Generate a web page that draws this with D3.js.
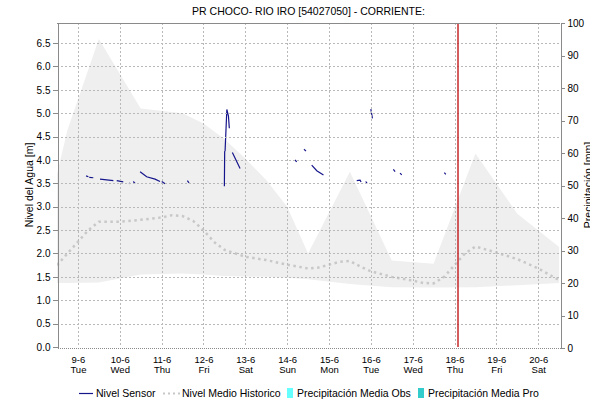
<!DOCTYPE html>
<html lang="es">
<head>
<meta charset="utf-8">
<style>
body { margin: 0; background: #fff; }
svg text { font-family: "Liberation Sans", Arial, sans-serif; fill: #000; }
.grid line { stroke: #b9b9b9; stroke-dasharray: 2,2; shape-rendering: crispEdges; }
.axis path, .axis line { stroke: #8a8a8a; shape-rendering: crispEdges; }
</style>
</head>
<body>
<svg width="590" height="402"></svg>
<script src="https://d3js.org/d3.v7.min.js"></script>
<script>
// --- data ---
var title = "PR CHOCO- RIO IRO [54027050] - CORRIENTE:";

var dayTicks = ["2015-06-09", "2015-06-10", "2015-06-11", "2015-06-12", "2015-06-13", "2015-06-14",
                "2015-06-15", "2015-06-16", "2015-06-17", "2015-06-18", "2015-06-19", "2015-06-20"];

// historic band (min / max)
var bandTimes = ["2015-06-08 12:00", "2015-06-08 18:00", "2015-06-09 12:00", "2015-06-10 12:00",
                 "2015-06-11 12:00", "2015-06-12 00:00", "2015-06-12 12:00", "2015-06-13 00:00",
                 "2015-06-13 12:00", "2015-06-14 00:00", "2015-06-14 12:00", "2015-06-15 12:00",
                 "2015-06-16 12:00", "2015-06-17 12:00", "2015-06-18 12:00", "2015-06-19 12:00",
                 "2015-06-20 12:00"];
var bandMax = [3.7, 4.64, 6.59, 5.1, 5.0, 4.78, 4.45, 4.03, 3.57, 3.0, 2.0, 3.75, 1.85, 1.78, 4.14, 2.85, 2.14];
var bandMin = [1.37, 1.37, 1.38, 1.55, 1.57, 1.55, 1.52, 1.51, 1.5, 1.48, 1.45, 1.35, 1.28, 1.27, 1.28, 1.32, 1.37];

// Nivel Medio Historico
var histTimes = ["2015-06-08 12:00", "2015-06-08 18:00", "2015-06-09 00:00", "2015-06-09 06:00",
                 "2015-06-09 12:00", "2015-06-10 00:00", "2015-06-10 12:00", "2015-06-11 00:00",
                 "2015-06-11 06:00", "2015-06-11 12:00", "2015-06-11 18:00", "2015-06-12 00:00",
                 "2015-06-12 06:00", "2015-06-12 12:00", "2015-06-13 00:00", "2015-06-13 12:00",
                 "2015-06-14 00:00", "2015-06-14 12:00", "2015-06-14 18:00", "2015-06-15 00:00",
                 "2015-06-15 06:00", "2015-06-15 12:00", "2015-06-15 18:00", "2015-06-16 00:00",
                 "2015-06-16 12:00", "2015-06-17 00:00", "2015-06-17 06:00", "2015-06-17 12:00",
                 "2015-06-17 18:00", "2015-06-18 00:00", "2015-06-18 06:00", "2015-06-18 12:00",
                 "2015-06-19 00:00", "2015-06-19 12:00", "2015-06-20 00:00", "2015-06-20 12:00"];
var histValues = [1.75, 2.0, 2.25, 2.5, 2.68, 2.68, 2.72, 2.77, 2.82, 2.8, 2.7, 2.5,
                  2.25, 2.08, 1.93, 1.86, 1.76, 1.68, 1.7, 1.76, 1.82, 1.84, 1.72, 1.62,
                  1.5, 1.42, 1.37, 1.36, 1.5, 1.75, 2.0, 2.15, 2.02, 1.88, 1.68, 1.43];

// Nivel Sensor (null = gap in the record)
var sensorTimes = ["2015-06-09 04:40", "2015-06-09 06:00", "2015-06-09 06:10",
                   "2015-06-09 06:30", "2015-06-09 08:50", "2015-06-09 10:00",
                   "2015-06-09 12:40", "2015-06-09 20:20", "2015-06-09 21:00",
                   "2015-06-09 22:15", "2015-06-10 02:00", "2015-06-10 03:00",
                   "2015-06-10 05:20", "2015-06-10 05:55", "2015-06-10 06:30",
                   "2015-06-10 07:45", "2015-06-10 08:45", "2015-06-10 10:00",
                   "2015-06-10 11:40", "2015-06-10 15:25", "2015-06-10 20:15", "2015-06-10 23:05", "2015-06-10 23:30",
                   "2015-06-11 00:05", "2015-06-11 02:00", "2015-06-11 03:00",
                   "2015-06-11 14:45", "2015-06-11 15:45", "2015-06-11 17:00",
                   "2015-06-12 12:00", "2015-06-12 12:10", "2015-06-12 12:25", "2015-06-12 13:25", "2015-06-12 14:20", "2015-06-12 14:50", "2015-06-12 15:30",
                   "2015-06-12 16:35", "2015-06-12 21:00", "2015-06-12 22:00",
                   "2015-06-14 04:30", "2015-06-14 05:30", "2015-06-14 06:30",
                   "2015-06-14 09:40", "2015-06-14 10:50", "2015-06-14 12:00",
                   "2015-06-14 14:05", "2015-06-14 17:00", "2015-06-14 20:50", "2015-06-14 22:00",
                   "2015-06-15 15:55", "2015-06-15 17:50", "2015-06-15 18:25", "2015-06-15 19:30",
                   "2015-06-15 21:05", "2015-06-15 21:50", "2015-06-15 23:00",
                   "2015-06-16 00:00", "2015-06-16 00:55", "2015-06-16 02:00",
                   "2015-06-16 12:55", "2015-06-16 13:55", "2015-06-16 15:00",
                   "2015-06-16 16:45", "2015-06-16 17:45", "2015-06-16 19:00",
                   "2015-06-17 18:10", "2015-06-17 19:00"];
var sensorValues = [3.66, 3.64, null,
                    3.63, 3.62, null,
                    3.59, 3.56, null,
                    3.56, 3.53, null,
                    3.51, 3.49, null,
                    3.54, 3.5, null,
                    3.75, 3.64, 3.59, 3.54, null,
                    3.54, 3.49, null,
                    3.56, 3.51, null,
                    3.44, 4.18, 4.2, 5.08, 4.94, 4.68, null,
                    4.16, 3.82, null,
                    4.0, 3.96, null,
                    4.23, 4.19, null,
                    3.89, 3.77, 3.68, null,
                    3.56, 3.57, 3.53, null,
                    3.54, 3.5, null,
                    5.09, 4.89, null,
                    3.8, 3.75, null,
                    3.72, 3.68, null,
                    3.73, 3.69];

var nowTime = "2015-06-18 02:00";

var legendItems = ["Nivel Sensor", "Nivel Medio Historico", "Precipitación Media Obs", "Precipitación Media Pro"];

// --- chart ---
var svg = d3.select("svg");
var parse = d3.timeParse("%Y-%m-%d %H:%M");
var parseDay = d3.timeParse("%Y-%m-%d");
var pL = 57, pR = 560, pT = 23, pB = 347;

var x = d3.scaleTime()
    .domain([parse("2015-06-08 12:00"), parse("2015-06-20 12:30")])
    .range([pL, pR]);
var y = d3.scaleLinear().domain([0, 6.93]).range([pB, pT]);
var yR = d3.scaleLinear().domain([0, 100]).range([pB + 1, pT]);

svg.append("defs").append("clipPath").attr("id", "plot")
    .append("rect").attr("x", pL).attr("y", pT).attr("width", pR - pL).attr("height", pB - pT);

var band = bandTimes.map(function (t, i) { return {t: parse(t), lo: bandMin[i], hi: bandMax[i]}; });
var hist = histTimes.map(function (t, i) { return {t: parse(t), v: histValues[i]}; });
var sensor = sensorTimes.map(function (t, i) { return {t: parse(t), v: sensorValues[i]}; });
var days = dayTicks.map(parseDay);

var plot = svg.append("g").attr("clip-path", "url(#plot)");

plot.append("path")
    .datum(band)
    .attr("fill", "#efefef")
    .attr("d", d3.area()
        .x(function (d) { return x(d.t); })
        .y0(function (d) { return y(d.lo); })
        .y1(function (d) { return y(d.hi); }));

// grid
var grid = svg.append("g").attr("class", "grid");
grid.selectAll(".gx").data(days).enter().append("line")
    .attr("x1", function (d) { return Math.round(x(d)) + 0.5; })
    .attr("x2", function (d) { return Math.round(x(d)) + 0.5; })
    .attr("y1", pT).attr("y2", pB);
grid.selectAll(".gy").data(d3.range(0.5, 6.6, 0.5)).enter().append("line")
    .attr("x1", pL).attr("x2", pR)
    .attr("y1", function (d) { return Math.round(y(d)) + 0.5; })
    .attr("y2", function (d) { return Math.round(y(d)) + 0.5; });

plot.append("path")
    .datum(hist)
    .attr("fill", "none")
    .attr("stroke", "#c8c8c8")
    .attr("stroke-width", 2.5)
    .attr("stroke-dasharray", "2.5,3.5")
    .attr("d", d3.line().x(function (d) { return x(d.t); }).y(function (d) { return y(d.v); }));

plot.append("path")
    .datum(sensor)
    .attr("fill", "none")
    .attr("stroke", "#16168c")
    .attr("stroke-width", 1.2)
    .attr("d", d3.line()
        .defined(function (d) { return d.v !== null; })
        .x(function (d) { return x(d.t); })
        .y(function (d) { return y(d.v); }));

// current time marker
svg.append("line")
    .attr("x1", x(parse(nowTime))).attr("x2", x(parse(nowTime)))
    .attr("y1", pT).attr("y2", pB)
    .attr("stroke", "#c2191c").attr("stroke-width", 1.4);

// frame top
svg.append("line").attr("x1", pL).attr("x2", pR).attr("y1", pT + 0.5).attr("y2", pT + 0.5)
    .attr("stroke", "#8a8a8a");

// left axis
var gl = svg.append("g").attr("class", "axis")
    .attr("transform", "translate(" + (pL + 0.5) + ",0)")
    .call(d3.axisLeft(y).tickValues(d3.range(0, 6.6, 0.5)).tickSize(5).tickSizeOuter(0).tickFormat(d3.format(".1f")));
gl.selectAll("text").attr("font-size", 10).attr("x", -7);

// right axis
var gr = svg.append("g").attr("class", "axis")
    .attr("transform", "translate(" + (pR + 0.5) + ",0)")
    .call(d3.axisRight(yR).tickValues(d3.range(0, 101, 10)).tickSize(4).tickSizeOuter(0));
gr.selectAll("text").attr("font-size", 10).attr("x", 7);

// bottom axis
var gb = svg.append("g").attr("class", "axis")
    .attr("transform", "translate(0," + (pB + 0.5) + ")")
    .call(d3.axisBottom(x).tickValues(days).tickSize(0).tickFormat(d3.timeFormat("%-d-%-m")));
gb.select(".domain").attr("stroke", "#555").attr("stroke-dasharray", "1,1");
gb.selectAll("text").attr("font-size", 9.5).attr("y", 0).attr("dy", 0).text(null)
    .each(function (d) {
        var t = d3.select(this);
        t.append("tspan").attr("x", 0).attr("y", 15).text(d3.timeFormat("%-d-%-m")(d));
        t.append("tspan").attr("x", 0).attr("y", 25).text(d3.timeFormat("%a")(d));
    });

// titles
svg.append("text").attr("x", (pL + pR) / 2).attr("y", 15)
    .attr("text-anchor", "middle").attr("font-size", 10.5).text(title);
svg.append("text")
    .attr("transform", "translate(33," + ((pT + pB) / 2) + ") rotate(-90)")
    .attr("text-anchor", "middle").attr("font-size", 10.5).text("Nivel del Agua [m]");
svg.append("text")
    .attr("transform", "translate(592," + ((pT + pB) / 2) + ") rotate(-90)")
    .attr("text-anchor", "middle").attr("font-size", 10.5).text("Precipitación [mm]");

// legend
var lg = svg.append("g").attr("transform", "translate(0,393)");
lg.append("line").attr("x1", 79).attr("x2", 93).attr("y1", 0.5).attr("y2", 0.5)
    .attr("stroke", "#16168c").attr("stroke-width", 1.2);
lg.append("text").attr("x", 96).attr("y", 4).attr("font-size", 10.5).text(legendItems[0]);
lg.append("line").attr("x1", 163).attr("x2", 180).attr("y1", 0.5).attr("y2", 0.5)
    .attr("stroke", "#c8c8c8").attr("stroke-width", 2).attr("stroke-dasharray", "2,3");
lg.append("text").attr("x", 182).attr("y", 4).attr("font-size", 10.5).text(legendItems[1]);
lg.append("rect").attr("x", 287).attr("y", -5).attr("width", 6).attr("height", 10).attr("fill", "#66ffff");
lg.append("text").attr("x", 297).attr("y", 4).attr("font-size", 10.5).text(legendItems[2]);
lg.append("rect").attr("x", 418).attr("y", -5).attr("width", 6).attr("height", 10).attr("fill", "#33cccc");
lg.append("text").attr("x", 428).attr("y", 4).attr("font-size", 10.5).text(legendItems[3]);
</script>
</body>
</html>
